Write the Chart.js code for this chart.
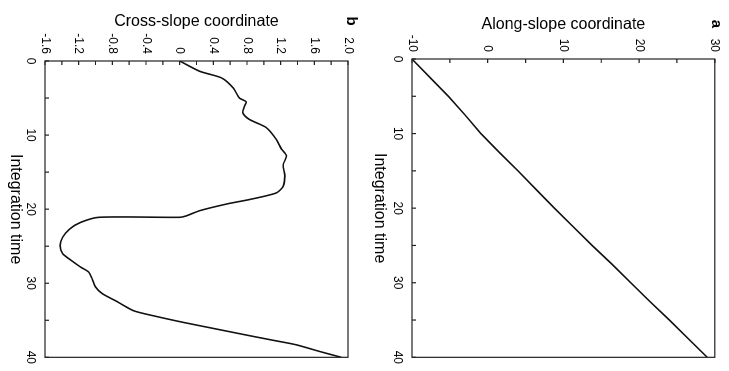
<!DOCTYPE html>
<html>
<head>
<title>Along-slope and cross-slope coordinates</title>
<script src="https://cdn.jsdelivr.net/npm/chart.js@4.4.0/dist/chart.umd.min.js"></script>
<style>
  body { margin: 0; background: #fff; width: 729px; height: 371px; overflow: hidden; }
  /* the figure is drawn upright, then turned a quarter turn clockwise like the scan */
  #figure { position: absolute; left: 0; top: 0; width: 371px; height: 729px;
            transform-origin: 0 0; transform: translate(729px, 0) rotate(90deg); }
  canvas { display: block; }
</style>
</head>
<body>
<div id="figure">
  <canvas id="alongChart" width="371" height="365"></canvas>
  <canvas id="crossChart" width="371" height="364"></canvas>
</div>
<script>
// panel a
const alongTime  = [0, 2.5, 5, 7.5, 10, 12.5, 15, 17.5, 20, 22.5, 25, 27.5, 30, 32.5, 35, 37.5, 40];
const alongValue = [-10, -7.6, -5.2, -3.0, -0.9, 1.5, 4.0, 6.4, 8.8, 11.3, 13.8, 16.4, 18.9, 21.4, 24.0, 26.5, 29.0];
const alongTicks = [-10, 0, 10, 20, 30];
const alongMarks = [-10, -5, 0, 5, 10, 15, 20, 25, 30];

// panel b
const crossTime  = [0, 1.4, 2.3, 3.7, 5.0, 5.5, 6.1, 7.0, 7.9, 9.0, 10.6, 11.9, 12.8, 14.0, 15.5, 16.9, 17.8, 18.7, 19.3, 20.2, 20.9, 21.1,
                    21.1, 21.8, 22.7, 23.8, 24.9, 26.0, 26.9, 27.8, 28.5, 29.4, 30.5, 31.4, 32.5, 33.7, 34.5, 35.3, 36.1, 36.9, 37.7, 38.3, 39.2, 40];
const crossValue = [0, 0.24, 0.50, 0.64, 0.71, 0.79, 0.77, 0.75, 0.83, 1.03, 1.15, 1.21, 1.27, 1.23, 1.25, 1.23, 1.15, 0.83, 0.56, 0.24, 0.08, 0.0,
                    -0.96, -1.18, -1.31, -1.39, -1.42, -1.39, -1.29, -1.18, -1.08, -1.04, -1.00, -0.92, -0.74, -0.55, -0.27, 0.05, 0.40, 0.75, 1.11, 1.38, 1.66, 1.92];
const crossTicks = [-1.6, -1.2, -0.8, -0.4, 0, 0.4, 0.8, 1.2, 1.6, 2.0];
const crossMarks = [-1.6, -1.4, -1.2, -1.0, -0.8, -0.6, -0.4, -0.2, 0, 0.2, 0.4, 0.6, 0.8, 1.0, 1.2, 1.4, 1.6, 1.8, 2.0];

const timeTicks = [0, 10, 20, 30, 40];
const timeMarks = [0, 5, 10, 15, 20, 25, 30, 35, 40];

Chart.defaults.color = '#000';
Chart.defaults.font.family = '"Liberation Sans", Arial, sans-serif';

const tickFont = { family: '"Liberation Sans Narrow", "Liberation Sans", Arial, sans-serif', size: 12 };
const titleFont = { size: 16 };

// box round the plot, inward tick marks and the panel letter
const framePlugin = {
    id: 'frame',
    afterDatasetsDraw(chart, args, opts) {
        const { ctx, chartArea: a, scales: { x, y } } = chart;
        ctx.save();
        ctx.strokeStyle = '#222';
        ctx.lineWidth = 1.2;
        ctx.strokeRect(a.left, a.top, a.right - a.left, a.bottom - a.top);
        ctx.beginPath();
        opts.xMarks.forEach(v => {
            const px = x.getPixelForValue(v);
            ctx.moveTo(px, a.bottom); ctx.lineTo(px, a.bottom - 4);
        });
        opts.yMarks.forEach(v => {
            const py = y.getPixelForValue(v);
            ctx.moveTo(a.left, py); ctx.lineTo(a.left + 4, py);
        });
        ctx.stroke();
        ctx.font = 'bold 15px "Liberation Sans", Arial';
        ctx.fillStyle = '#000';
        ctx.textAlign = 'center';
        ctx.textBaseline = 'middle';
        ctx.fillText(opts.letter, opts.letterX, opts.letterY);
        ctx.restore();
    }
};

function makeChart(id, times, values, yMin, yMax, yTicks, yMarks, yTitle, fmt, box) {
    const points = times.map((t, i) => ({ x: t, y: values[i] }));
    return new Chart(document.getElementById(id), {
        type: 'scatter',
        data: {
            datasets: [{
                data: points,
                showLine: true,
                borderColor: '#111',
                borderWidth: 1.6,
                pointRadius: 0,
                tension: box.tension
            }]
        },
        options: {
            responsive: false,
            animation: false,
            layout: { padding: { left: 0, top: box.top, right: box.right, bottom: 0 } },
            plugins: {
                legend: { display: false },
                tooltip: { enabled: false },
                frame: { xMarks: timeMarks, yMarks: yMarks, letter: box.letter, letterX: box.letterX, letterY: box.letterY }
            },
            scales: {
                x: {
                    type: 'linear', min: 0, max: 40,
                    grid: { display: false, drawTicks: false },
                    border: { display: false },
                    afterBuildTicks: s => { s.ticks = timeTicks.map(v => ({ value: v })); },
                    afterFit: s => { s.height = box.xHeight; },
                    ticks: { font: tickFont, padding: 7, maxRotation: 0 },
                    title: { display: true, text: 'Integration time', font: titleFont, padding: { top: 0, bottom: 6 } }
                },
                y: {
                    type: 'linear', min: yMin, max: yMax,
                    grid: { display: false, drawTicks: false },
                    border: { display: false },
                    afterBuildTicks: s => { s.ticks = yTicks.map(v => ({ value: v })); },
                    afterFit: s => { s.width = box.yWidth; },
                    ticks: { font: tickFont, padding: 7, callback: fmt },
                    title: { display: true, text: yTitle, font: titleFont, padding: { top: box.titlePad, bottom: 0 } }
                }
            }
        },
        plugins: [framePlugin]
    });
}

makeChart('alongChart', alongTime, alongValue, -10, 30, alongTicks, alongMarks,
    'Along-slope coordinate', v => String(v),
    { top: 12, right: 13, xHeight: 48, yWidth: 59, titlePad: 15, tension: 0, letter: 'a', letterX: 24, letterY: 13 });

makeChart('crossChart', crossTime, crossValue, -1.6, 2.0, crossTicks, crossMarks,
    'Cross-slope coordinate', v => Math.abs(v) < 1e-9 ? '0' : v.toFixed(1),
    { top: 16, right: 11, xHeight: 45, yWidth: 61, titlePad: 12, tension: 0.25, letter: 'b', letterX: 21, letterY: 13 });
</script>
</body>
</html>
